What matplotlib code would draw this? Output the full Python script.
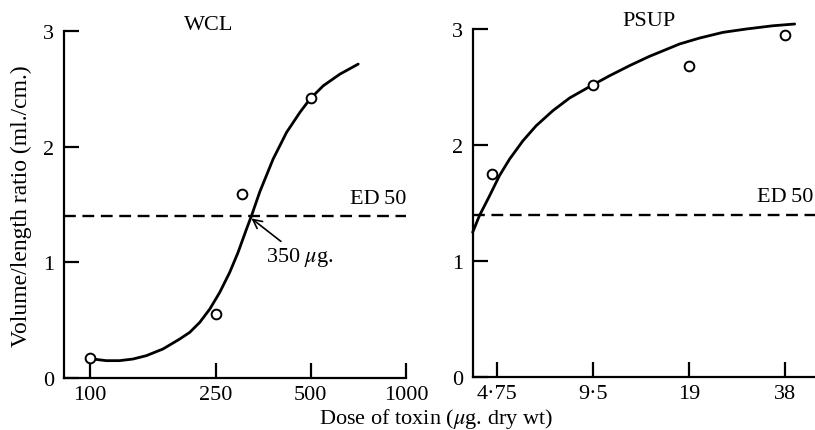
import numpy as np
import matplotlib
matplotlib.use("Agg")
import matplotlib.pyplot as plt
from matplotlib.ticker import FixedLocator, FixedFormatter, NullLocator

plt.rcParams['font.family'] = ['Liberation Serif', 'DejaVu Serif']
plt.rcParams['mathtext.fontset'] = 'stix'

# WCL: observed points and fitted curve
wcl_dose = [100, 250, 303, 500]
wcl_ratio = [0.17, 0.55, 1.59, 2.42]
wcl_curve_dose = [102.4, 112.9, 124.4, 137.1, 151.1, 170.6, 192.7, 207.3, 222.9, 239.8,
                  257.9, 277.3, 294.6, 313.3, 324.9, 345.1, 380.2, 419.4, 461.9, 496.9,
                  547.4, 618.1, 706.4]
wcl_curve_ratio = [0.164, 0.150, 0.150, 0.164, 0.193, 0.251, 0.337, 0.395, 0.481, 0.596,
                   0.741, 0.914, 1.086, 1.288, 1.403, 1.610, 1.893, 2.124, 2.296, 2.411,
                   2.526, 2.627, 2.714]
wcl_ticks = [100, 250, 500, 1000]
wcl_ticklabels = ['100', '250', '500', '1000']

# PSUP: observed points and fitted curve
psup_dose = [4.6, 9.5, 19, 38]
psup_ratio = [1.75, 2.52, 2.68, 2.95]
psup_curve_dose = [3.99, 4.19, 4.51, 4.84, 5.21, 5.73, 6.31, 7.12, 8.03, 9.39, 10.72,
                   12.38, 14.31, 15.38, 17.77, 20.52, 24.29, 28.76, 34.85, 40.76]
psup_curve_ratio = [1.247, 1.391, 1.563, 1.735, 1.879, 2.035, 2.166, 2.296, 2.405, 2.511,
                    2.597, 2.684, 2.765, 2.800, 2.871, 2.922, 2.971, 3.0, 3.028, 3.043]
psup_ticks = [4.75, 9.5, 19, 38]
psup_ticklabels = ['4\u00b775', '9\u00b75', '19', '38']

ED50 = 1.4
ED50_DOSE_LABEL = '350 $\\mu$g.'

FS = 16
LW = 1.6

fig = plt.figure(figsize=(8.15, 4.31), dpi=100)
ax1 = fig.add_axes([64 / 815, 1 - 379 / 431, 342 / 815, 347 / 431])
ax2 = fig.add_axes([473 / 815, 1 - 378 / 431, 342 / 815, 348 / 431])


def style_axis(ax, ticks, labels):
    ax.set_xscale('log')
    for s in ['top', 'right']:
        ax.spines[s].set_visible(False)
    for s in ['left', 'bottom']:
        ax.spines[s].set_linewidth(LW)
    ax.xaxis.set_major_locator(FixedLocator(ticks))
    ax.xaxis.set_major_formatter(FixedFormatter(labels))
    ax.xaxis.set_minor_locator(NullLocator())
    ax.set_ylim(0, 3)
    ax.set_yticks([0, 1, 2, 3])
    ax.tick_params(direction='in', length=11, width=LW, labelsize=FS, pad=7)
    ax.tick_params(axis='x', pad=5)


# left panel
style_axis(ax1, wcl_ticks, wcl_ticklabels)
ax1.set_xlim(83, 1000)
ax1.plot(wcl_curve_dose, wcl_curve_ratio, color='black', lw=2.0,
         solid_joinstyle='round', solid_capstyle='round')
ax1.plot(wcl_dose, wcl_ratio, 'o', ms=7, mfc='white', mec='black', mew=1.4)
ax1.axhline(ED50, color='black', lw=1.7, dashes=(5, 2.8))
ax1.text(1000, 1.55, 'ED\u200950', ha='right', va='center', fontsize=FS)
ax1.text(0.424, 1.02, 'WCL', transform=ax1.transAxes, ha='center', va='center', fontsize=FS)

# arrow to the point where the curve reaches ED50
cross = np.interp(ED50, wcl_curve_ratio[8:17], np.log10(wcl_curve_dose[8:17]))
ax1.annotate(ED50_DOSE_LABEL, xy=(10 ** cross, ED50 - 0.02), xytext=(362, 1.05),
             fontsize=FS, ha='left', va='center',
             arrowprops=dict(arrowstyle='->', color='black', lw=1.2,
                             shrinkA=1, shrinkB=0))

# right panel
style_axis(ax2, psup_ticks, psup_ticklabels)
ax2.set_xlim(4.0, 47.2)
ax2.plot(psup_curve_dose, psup_curve_ratio, color='black', lw=2.0, clip_on=False,
         solid_joinstyle='round', solid_capstyle='round')
ax2.plot(psup_dose, psup_ratio, 'o', ms=7, mfc='white', mec='black', mew=1.4)
ax2.axhline(ED50, color='black', lw=1.7, dashes=(5, 2.8))
ax2.text(46.8, 1.56, 'ED\u200950', ha='right', va='center', fontsize=FS)
ax2.text(0.515, 1.024, 'PSUP', transform=ax2.transAxes, ha='center', va='center', fontsize=FS)

fig.text(21 / 815, 1 - 206 / 431, 'Volume/length ratio (ml./cm.)', rotation=90,
         ha='center', va='center', fontsize=17)
fig.text(436 / 815, 1 - 419.5 / 431, 'Dose of toxin ($\\mu$g. dry wt)',
         ha='center', va='center', fontsize=16)

fig.savefig('out.png', dpi=100)
